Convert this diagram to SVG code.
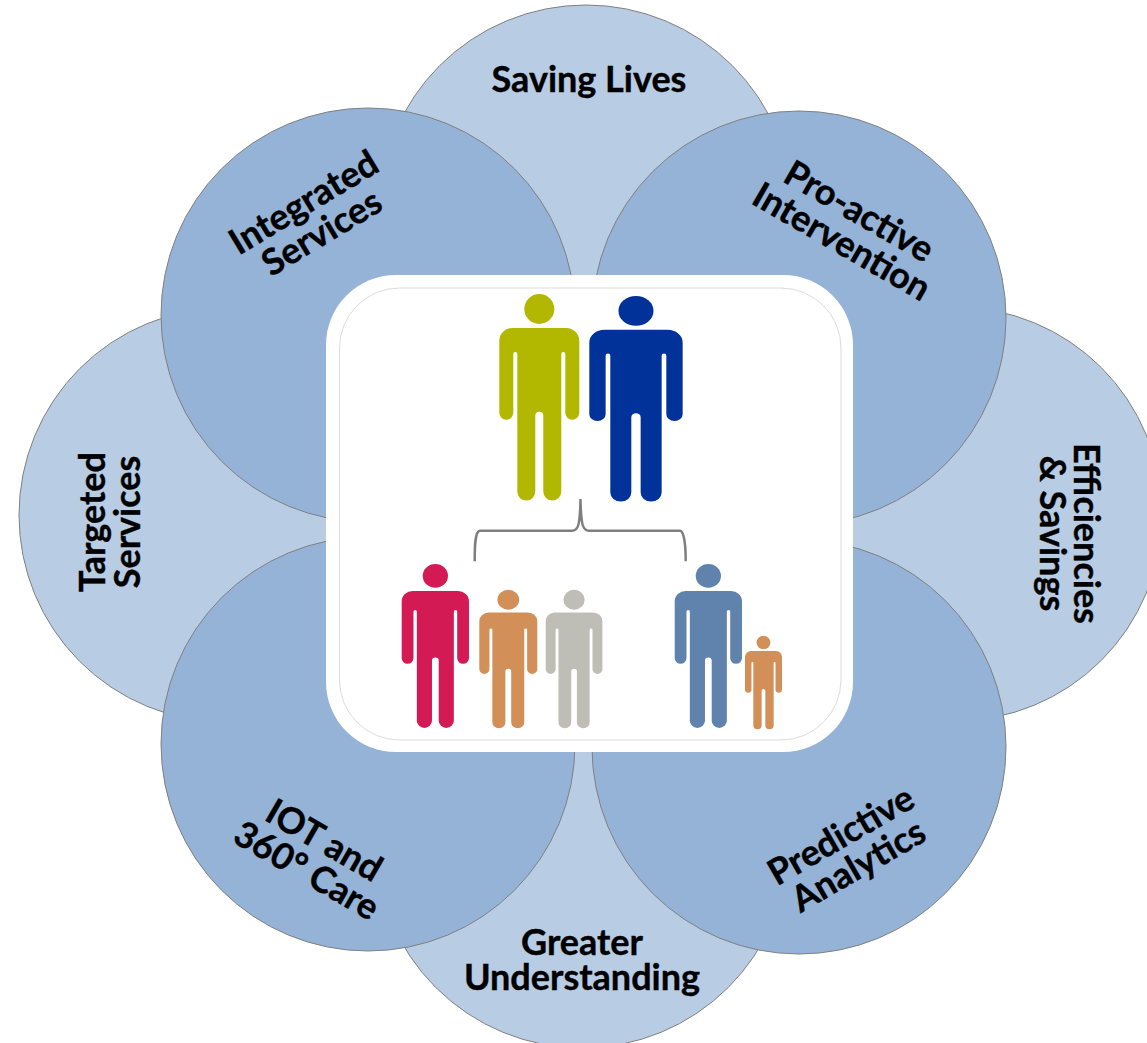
<svg xmlns="http://www.w3.org/2000/svg" width="1147" height="1043" viewBox="0 0 1147 1043">
<style>
.l{fill:#b8cce4;stroke:#808080;stroke-width:1}
.d{fill:#95b3d7;stroke:#808080;stroke-width:1}
.t{font-family:"Lato","Liberation Sans",sans-serif;font-weight:700;font-size:36px;fill:#000;stroke:#000;stroke-width:0.4;text-anchor:middle}
</style>
<defs>
<g id="person">
<circle cx="40" cy="15" r="15"/>
<path d="M13 34H67A13 13 0 0 1 80 47V119A7 7 0 0 1 66 119V60A2 2 0 0 0 62 60V198A9 9 0 0 1 44 198V122A4 4 0 0 0 36 122V198A9 9 0 0 1 18 198V60A2 2 0 0 0 14 60V119A7 7 0 0 1 0 119V47A13 13 0 0 1 13 34Z"/>
</g>
</defs>
<rect width="1147" height="1043" fill="#fff"/>
<g id="node-saving-lives"><circle class="l" cx="586" cy="212" r="207"/><text class="t" x="589" y="92">Saving Lives</text></g>
<g id="node-efficiencies"><circle class="l" cx="955" cy="514" r="207"/><g transform="translate(1074,533.5) rotate(90)"><text class="t">Efficiencies</text><text class="t" y="34">&amp; Savings</text></g></g>
<g id="node-understanding"><circle class="l" cx="582" cy="841" r="207"/><text class="t" x="582" y="955">Greater</text><text class="t" x="582" y="990">Understanding</text></g>
<g id="node-targeted"><circle class="l" cx="226" cy="515" r="207"/><g transform="translate(104.500,522) rotate(-90)"><text class="t">Targeted</text><text class="t" y="35">Services</text></g></g>
<g id="node-integrated"><circle class="d" cx="368" cy="315" r="207"/><g transform="translate(310,213) rotate(-31)"><text class="t">Integrated</text><text class="t" y="35">Services</text></g></g>
<g id="node-proactive"><circle class="d" cx="799" cy="318" r="207"/><g transform="translate(853,222) rotate(30)"><text class="t">Pro-active</text><text class="t" y="35">Intervention</text></g></g>
<g id="node-iot"><circle class="d" cx="368" cy="744" r="207"/><g transform="translate(318,851) rotate(30)"><text class="t">IOT and</text><text class="t" y="35">360° Care</text></g></g>
<g id="node-predictive"><circle class="d" cx="799" cy="747" r="207"/><g transform="translate(847,846) rotate(-30)"><text class="t">Predictive</text><text class="t" y="35">Analytics</text></g></g>
<g id="node-family">
<rect x="326" y="275" width="527" height="477" rx="70" fill="#fff"/>
<rect x="339.500" y="288" width="501.500" height="452" rx="60" fill="#fff" stroke="#dcdcdc" stroke-width="1"/>
<use href="#person" fill="#b2b800" transform="translate(499.300,294) scale(1,0.998)"/>
<use href="#person" fill="#00329a" transform="translate(589.300,296) scale(1.167,0.993)"/>
<use href="#person" fill="#d31a55" transform="translate(401.700,564) scale(0.841,0.792)"/>
<use href="#person" fill="#d38f58" transform="translate(479.300,589.700) scale(0.725,0.669)"/>
<use href="#person" fill="#bfbeb6" transform="translate(545.700,589.700) scale(0.709,0.669)"/>
<use href="#person" fill="#6083ae" transform="translate(674.700,564) scale(0.841,0.792)"/>
<use href="#person" fill="#d38f58" transform="translate(745,635.700) scale(0.4625,0.452)"/>
</g>
<g id="connectors">
<path d="M474.700 561.300C474.700 545 475 531 480 530.700H572C578 530.700 580 526 580.500 499C581 526 583 530.700 589 530.700H680C684 531 685.700 545 685.700 561.300" fill="none" stroke="#7f7f7f" stroke-width="2.500"/>
</g>
</svg>
